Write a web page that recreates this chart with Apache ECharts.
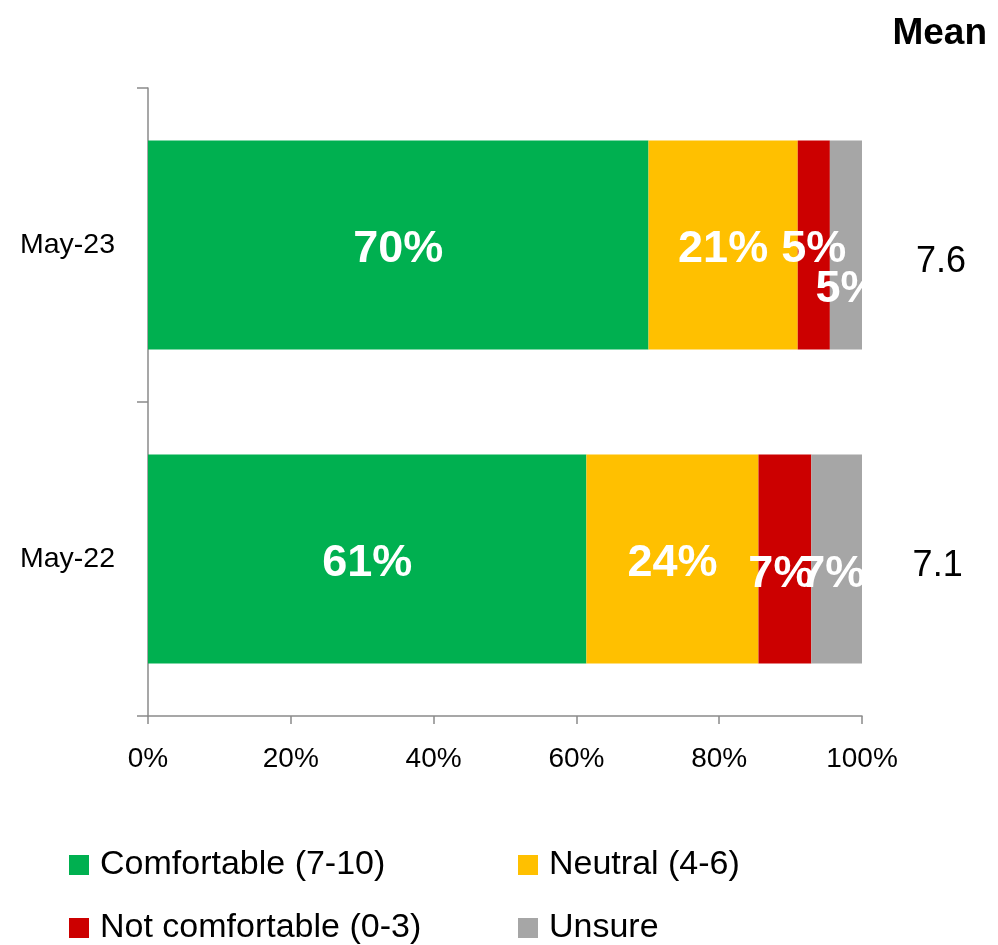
<!DOCTYPE html>
<html>
<head>
<meta charset="utf-8">
<style>
  html, body { margin: 0; padding: 0; background: #fff; }
  #chart { width: 998px; height: 945px; }
</style>
<script src="https://cdn.jsdelivr.net/npm/echarts@6/dist/echarts.min.js"></script>
</head>
<body>
<div id="chart"></div>
<script>
// ---- data ----
const categories = ['May-22', 'May-23'];
const comfortable = [61.4, 70.1];
const neutral = [24.1, 20.9];
const notComfortable = [7.4, 4.5];
const unsure = [7.1, 4.5];
const means = [7.1, 7.6];
const seriesNames = ['Comfortable (7-10)', 'Neutral (4-6)', 'Not comfortable (0-3)', 'Unsure'];
const colors = ['#00B050', '#FFC000', '#CC0000', '#A6A6A6'];
const xTicks = [0, 20, 40, 60, 80, 100];

const FONT = "'Liberation Sans', Arial, sans-serif";
const AXIS_COLOR = '#8a8a8a';

// per-item label nudges (labels moved in original to avoid overlap)
const labelOffsets = [
  [[0, 5], [0, 5]],
  [[0, 5], [0, 5]],
  [[-4, 16], [0, 5]],
  [[-4, 16], [2, 45]]
];

const allValues = [comfortable, neutral, notComfortable, unsure];

const barSeries = allValues.map((vals, si) => ({
  name: seriesNames[si],
  type: 'bar',
  stack: 'total',
  barWidth: '66.6%',
  xAxisIndex: 0,
  yAxisIndex: 0,
  itemStyle: { color: colors[si] },
  label: {
    show: true,
    position: 'inside',
    color: '#fff',
    fontFamily: FONT,
    fontWeight: 'bold',
    fontSize: 45,
    formatter: p => Math.round(p.value) + '%'
  },
  data: vals.map((v, i) => ({
    value: v,
    label: { offset: labelOffsets[si][i] }
  }))
}));

const meanOffsets = [[0, 7], [0, 17]];
const meanSeries = {
  name: 'Mean',
  type: 'scatter',
  xAxisIndex: 1,
  yAxisIndex: 1,
  symbolSize: 1,
  itemStyle: { opacity: 0 },
  silent: true,
  label: {
    show: true,
    position: 'inside',
    color: '#000',
    opacity: 1,
    textBorderWidth: 0,
    fontFamily: FONT,
    fontSize: 36,
    formatter: p => p.value[0].toFixed(1)
  },
  data: means.map((m, i) => ({
    value: [m, categories[i]],
    label: { offset: meanOffsets[i] }
  }))
};

const legendPos = [
  { left: 69, top: 848 },
  { left: 518, top: 848 },
  { left: 69, top: 911 },
  { left: 518, top: 911 }
];

const chart = echarts.init(document.getElementById('chart'), null, { renderer: 'canvas' });
chart.setOption({
  animation: false,
  backgroundColor: '#fff',
  textStyle: { fontFamily: FONT },
  title: {
    text: 'Mean',
    right: 6,
    top: 10,
    textStyle: { fontFamily: FONT, fontWeight: 'bold', fontSize: 37, color: '#000' }
  },
  legend: seriesNames.map((name, i) => ({
    data: [name],
    left: legendPos[i].left,
    top: legendPos[i].top,
    padding: 0,
    icon: 'rect',
    itemWidth: 20,
    itemHeight: 20,
    itemGap: 10,
    textStyle: { fontFamily: FONT, fontSize: 34, color: '#000', lineHeight: 34, padding: [0, 0, 0, 6] },
    selectedMode: false
  })),
  grid: [
    { left: 148, right: 136, top: 88, bottom: 229, containLabel: false },
    { left: 890, right: 6, top: 88, bottom: 229, containLabel: false }
  ],
  xAxis: [
    {
      type: 'value',
      gridIndex: 0,
      min: xTicks[0],
      max: xTicks[xTicks.length - 1],
      interval: xTicks[1] - xTicks[0],
      splitLine: { show: false },
      axisLine: { show: true, lineStyle: { color: AXIS_COLOR, width: 1.5 } },
      axisTick: { show: true, length: 8, lineStyle: { color: AXIS_COLOR, width: 1.5 } },
      axisLabel: {
        margin: 29,
        color: '#000',
        fontFamily: FONT,
        fontSize: 28,
        formatter: '{value}%'
      }
    },
    {
      type: 'value',
      gridIndex: 1,
      min: 0,
      max: 2 * Math.max(...means),
      show: false
    }
  ],
  yAxis: [
    {
      type: 'category',
      gridIndex: 0,
      data: categories,
      axisLine: { show: true, lineStyle: { color: AXIS_COLOR, width: 1.5 } },
      axisTick: { show: true, length: 11, lineStyle: { color: AXIS_COLOR, width: 1.5 } },
      axisLabel: {
        margin: 33,
        color: '#000',
        fontFamily: FONT,
        fontSize: 28.5
      }
    },
    {
      type: 'category',
      gridIndex: 1,
      data: categories,
      show: false
    }
  ],
  series: [...barSeries, meanSeries]
});
</script>
</body>
</html>
